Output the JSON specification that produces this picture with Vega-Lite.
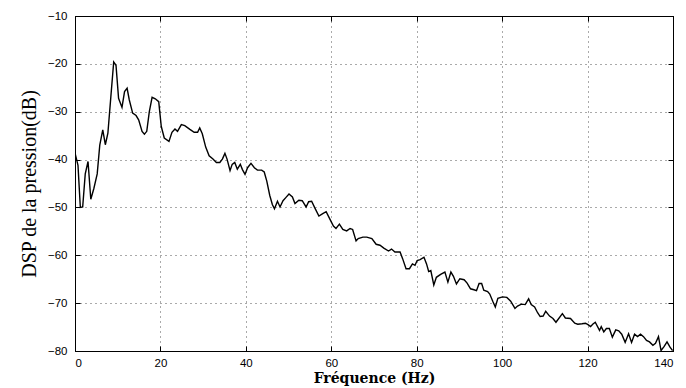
{
  "$schema": "https://vega.github.io/schema/vega-lite/v6.json",
  "autosize": "none",
  "width": 598,
  "height": 335,
  "padding": {"left": 75, "top": 16, "right": 13, "bottom": 37},
  "background": "white",
  "config": {
    "view": {"stroke": "black", "strokeWidth": 1},
    "axis": {
      "domainColor": "black",
      "domainWidth": 1,
      "tickColor": "black",
      "tickSize": -5,
      "tickWidth": 1,
      "labelFont": "Liberation Sans",
      "labelFontSize": 11.5,
      "labelColor": "black",
      "gridColor": "#444444",
      "gridDash": [1, 4],
      "gridWidth": 1,
      "gridOpacity": 0.9
    }
  },
  "data": {
    "values": [
      {"f": 0, "v": -38.6}, {"f": 0.7, "v": -41.2}, {"f": 1.25, "v": -50.0}, {"f": 1.8, "v": -49.9},
      {"f": 2.4, "v": -43.0}, {"f": 3.05, "v": -40.4}, {"f": 3.7, "v": -48.3}, {"f": 4.4, "v": -46.1},
      {"f": 5.2, "v": -43.0}, {"f": 5.8, "v": -37.0}, {"f": 6.5, "v": -33.8}, {"f": 7.1, "v": -36.9},
      {"f": 7.7, "v": -34.5}, {"f": 8.4, "v": -26.8}, {"f": 9.06, "v": -19.6}, {"f": 9.6, "v": -20.3},
      {"f": 10.2, "v": -27.2}, {"f": 11.0, "v": -29.1}, {"f": 11.6, "v": -25.8}, {"f": 12.2, "v": -25.1},
      {"f": 12.7, "v": -27.5}, {"f": 13.5, "v": -30.3}, {"f": 14.3, "v": -30.8}, {"f": 14.9, "v": -31.7},
      {"f": 15.7, "v": -34.1}, {"f": 16.25, "v": -34.7}, {"f": 16.8, "v": -34.1}, {"f": 17.4, "v": -30.0},
      {"f": 18.05, "v": -27.0}, {"f": 18.8, "v": -27.3}, {"f": 19.6, "v": -27.9}, {"f": 20.2, "v": -33.1},
      {"f": 20.9, "v": -35.5}, {"f": 22.0, "v": -36.2}, {"f": 22.7, "v": -34.3}, {"f": 23.4, "v": -33.6},
      {"f": 24.0, "v": -34.1}, {"f": 24.9, "v": -32.7}, {"f": 25.7, "v": -32.9}, {"f": 26.9, "v": -33.7},
      {"f": 27.9, "v": -34.3}, {"f": 28.7, "v": -34.3}, {"f": 29.2, "v": -33.4}, {"f": 29.8, "v": -34.6},
      {"f": 30.6, "v": -37.4}, {"f": 31.4, "v": -39.2}, {"f": 32.3, "v": -39.9}, {"f": 33.1, "v": -40.6},
      {"f": 33.9, "v": -40.6}, {"f": 34.5, "v": -39.9}, {"f": 35.1, "v": -38.7}, {"f": 35.6, "v": -39.9},
      {"f": 36.3, "v": -42.3}, {"f": 36.8, "v": -41.0}, {"f": 37.4, "v": -40.6}, {"f": 38.0, "v": -42.0},
      {"f": 38.7, "v": -41.0}, {"f": 39.2, "v": -42.1}, {"f": 39.8, "v": -43.1}, {"f": 40.4, "v": -41.7},
      {"f": 41.2, "v": -40.8}, {"f": 42.0, "v": -41.7}, {"f": 42.7, "v": -42.2}, {"f": 43.7, "v": -42.2},
      {"f": 44.3, "v": -42.6}, {"f": 44.9, "v": -44.5}, {"f": 45.6, "v": -47.5}, {"f": 46.2, "v": -49.4},
      {"f": 46.7, "v": -50.3}, {"f": 47.4, "v": -48.7}, {"f": 48.0, "v": -49.9}, {"f": 48.7, "v": -48.6},
      {"f": 49.4, "v": -47.9}, {"f": 50.1, "v": -47.2}, {"f": 50.9, "v": -47.8}, {"f": 51.5, "v": -49.2},
      {"f": 52.4, "v": -48.5}, {"f": 53.2, "v": -48.6}, {"f": 54.1, "v": -49.9}, {"f": 54.7, "v": -48.8},
      {"f": 55.4, "v": -48.7}, {"f": 56.2, "v": -50.2}, {"f": 57.1, "v": -51.8}, {"f": 58.0, "v": -51.3},
      {"f": 58.8, "v": -50.9}, {"f": 59.7, "v": -52.5}, {"f": 60.5, "v": -53.9}, {"f": 61.1, "v": -54.4},
      {"f": 61.9, "v": -53.5}, {"f": 62.7, "v": -54.6}, {"f": 63.6, "v": -54.9}, {"f": 64.4, "v": -54.4},
      {"f": 65.0, "v": -54.6}, {"f": 65.8, "v": -57.0}, {"f": 66.3, "v": -56.5}, {"f": 67.4, "v": -56.2},
      {"f": 68.3, "v": -56.2}, {"f": 69.5, "v": -56.5}, {"f": 70.5, "v": -57.7}, {"f": 71.4, "v": -57.9},
      {"f": 72.3, "v": -58.5}, {"f": 73.4, "v": -59.1}, {"f": 74.1, "v": -58.7}, {"f": 74.9, "v": -59.3},
      {"f": 76.1, "v": -59.3}, {"f": 76.7, "v": -60.7}, {"f": 77.5, "v": -62.8}, {"f": 78.3, "v": -62.8},
      {"f": 79.0, "v": -61.8}, {"f": 79.6, "v": -62.1}, {"f": 80.1, "v": -61.1}, {"f": 80.8, "v": -60.9},
      {"f": 81.7, "v": -60.4}, {"f": 82.3, "v": -61.8}, {"f": 82.8, "v": -63.4}, {"f": 83.3, "v": -63.2},
      {"f": 84.0, "v": -66.2}, {"f": 84.6, "v": -64.6}, {"f": 85.6, "v": -64.0}, {"f": 86.6, "v": -63.5},
      {"f": 87.3, "v": -65.6}, {"f": 88.0, "v": -63.5}, {"f": 88.6, "v": -64.4}, {"f": 89.3, "v": -66.0},
      {"f": 90.1, "v": -64.9}, {"f": 91.1, "v": -65.1}, {"f": 91.8, "v": -65.8}, {"f": 92.6, "v": -67.0},
      {"f": 93.4, "v": -67.2}, {"f": 94.0, "v": -67.4}, {"f": 94.6, "v": -65.9}, {"f": 95.2, "v": -65.9},
      {"f": 95.7, "v": -67.3}, {"f": 96.6, "v": -67.6}, {"f": 97.1, "v": -68.1}, {"f": 97.8, "v": -69.6},
      {"f": 98.4, "v": -70.8}, {"f": 99.0, "v": -69.0}, {"f": 100.1, "v": -68.7}, {"f": 101.1, "v": -68.8},
      {"f": 102.0, "v": -69.6}, {"f": 103.0, "v": -71.1}, {"f": 103.6, "v": -70.6}, {"f": 104.5, "v": -70.2},
      {"f": 105.4, "v": -70.3}, {"f": 106.2, "v": -69.1}, {"f": 106.8, "v": -70.3}, {"f": 107.6, "v": -70.8},
      {"f": 108.3, "v": -72.0}, {"f": 108.9, "v": -72.8}, {"f": 109.6, "v": -72.7}, {"f": 110.2, "v": -71.7},
      {"f": 111.1, "v": -72.7}, {"f": 111.9, "v": -73.2}, {"f": 112.6, "v": -74.0}, {"f": 114.1, "v": -72.2},
      {"f": 114.8, "v": -73.1}, {"f": 116.0, "v": -73.2}, {"f": 117.0, "v": -74.2}, {"f": 117.7, "v": -74.4},
      {"f": 118.7, "v": -74.3}, {"f": 119.5, "v": -74.2}, {"f": 120.1, "v": -74.5}, {"f": 120.7, "v": -74.9},
      {"f": 121.2, "v": -74.4}, {"f": 121.8, "v": -74.0}, {"f": 122.8, "v": -75.7}, {"f": 123.2, "v": -74.9},
      {"f": 123.8, "v": -76.0}, {"f": 124.4, "v": -75.3}, {"f": 125.1, "v": -75.3}, {"f": 125.8, "v": -77.1},
      {"f": 126.6, "v": -75.6}, {"f": 127.3, "v": -75.8}, {"f": 128.0, "v": -76.5}, {"f": 128.8, "v": -78.2},
      {"f": 129.6, "v": -76.4}, {"f": 130.3, "v": -78.2}, {"f": 131.0, "v": -76.5}, {"f": 131.7, "v": -77.0},
      {"f": 132.4, "v": -76.5}, {"f": 133.1, "v": -77.0}, {"f": 133.8, "v": -77.8}, {"f": 134.5, "v": -78.1},
      {"f": 135.3, "v": -78.8}, {"f": 135.9, "v": -78.4}, {"f": 136.6, "v": -77.0}, {"f": 137.2, "v": -79.9},
      {"f": 137.9, "v": -79.1}, {"f": 138.6, "v": -78.1}, {"f": 139.3, "v": -79.2}, {"f": 139.9, "v": -79.9}
    ]
  },
  "layer": [
    {
      "mark": {"type": "line", "color": "black", "strokeWidth": 1.4, "clip": true},
      "encoding": {
        "x": {
          "field": "f", "type": "quantitative",
          "scale": {"domain": [0, 140], "nice": false, "zero": false},
          "axis": {
            "values": [0, 20, 40, 60, 80, 100, 120, 140],
            "title": "Fréquence (Hz)",
            "titleFont": "DejaVu Serif",
            "titleFontSize": 14,
            "titleFontWeight": "bold",
            "titleColor": "black",
            "titlePadding": 3,
            "labelPadding": 11
          }
        },
        "y": {
          "field": "v", "type": "quantitative",
          "scale": {"domain": [-80, -10], "nice": false, "zero": false},
          "axis": {
            "values": [-80, -70, -60, -50, -40, -30, -20, -10],
            "title": "DSP de la pression(dB)",
            "titleFont": "Liberation Serif",
            "titleFontSize": 20,
            "titleFontWeight": "normal",
            "titleColor": "black",
            "titlePadding": 8,
            "labelPadding": 13
          }
        }
      }
    },
    {
      "mark": {"type": "point", "opacity": 0},
      "encoding": {
        "x": {
          "field": "f", "type": "quantitative",
          "scale": {"domain": [0, 140], "nice": false, "zero": false},
          "axis": {"orient": "top", "values": [0, 20, 40, 60, 80, 100, 120, 140], "labels": false, "grid": false, "title": null}
        },
        "y": {
          "field": "v", "type": "quantitative",
          "scale": {"domain": [-80, -10], "nice": false, "zero": false},
          "axis": {"orient": "right", "values": [-80, -70, -60, -50, -40, -30, -20, -10], "labels": false, "grid": false, "title": null}
        }
      }
    }
  ],
  "resolve": {"axis": {"x": "independent", "y": "independent"}}
}
